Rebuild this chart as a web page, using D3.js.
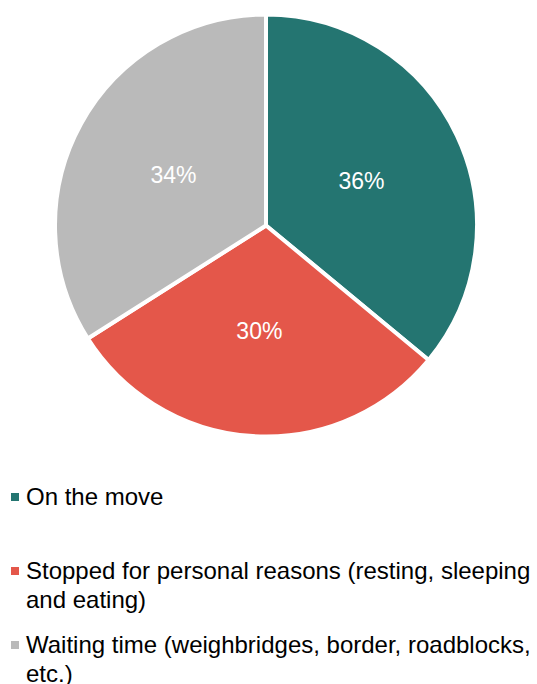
<!DOCTYPE html>
<html>
<head>
<meta charset="utf-8">
<script src="https://cdn.jsdelivr.net/npm/d3@7"></script>
<style>
  body { margin: 0; background: #fff; }
  svg { display: block; font-family: "Liberation Sans", Arial, sans-serif; }
</style>
</head>
<body>
<div id="chart"></div>
<script>
// Data
var categories = ["On the move", "Stopped for personal reasons (resting, sleeping and eating)", "Waiting time (weighbridges, border, roadblocks, etc.)"];
var values = [36, 30, 34];
var colors = ["#247571", "#e4574a", "#bababa"];
// legend text split into lines as in the picture
var legendLines = [
  ["On the move"],
  ["Stopped for personal reasons (resting, sleeping", "and eating)"],
  ["Waiting time (weighbridges, border, roadblocks,", "etc.)"]
];

var w = 537, h = 684;
var cx = 266, cy = 225.5, radius = 211;

var svg = d3.select("#chart").append("svg")
  .attr("width", w)
  .attr("height", h);

var data = categories.map(function(c, i) { return { name: c, value: values[i], color: colors[i] }; });

var pie = d3.pie().sort(null).value(function(d) { return d.value; });
var arc = d3.arc().innerRadius(0).outerRadius(radius);
var labelArc = d3.arc().innerRadius(radius / 2).outerRadius(radius / 2);

var g = svg.append("g").attr("transform", "translate(" + cx + "," + cy + ")");

g.selectAll("path")
  .data(pie(data))
  .enter()
  .append("path")
  .attr("d", arc)
  .attr("fill", function(d) { return d.data.color; })
  .attr("stroke", "#fff")
  .attr("stroke-width", 4)
  .attr("stroke-linejoin", "round");

// percentage labels
g.selectAll("text.pct")
  .data(pie(data))
  .enter()
  .append("text")
  .attr("class", "pct")
  .attr("transform", function(d) { return "translate(" + labelArc.centroid(d) + ")"; })
  .attr("text-anchor", "middle")
  .attr("dy", "0.35em")
  .attr("fill", "#fff")
  .style("font-size", "23px")
  .text(function(d) { return d.data.value + "%"; });

// Legend
var legendTop = [505, 579, 653];
var lineH = 29;
var legend = svg.append("g");

legendLines.forEach(function(lines, i) {
  legend.append("rect")
    .attr("x", 11)
    .attr("y", legendTop[i] - 12)
    .attr("width", 8)
    .attr("height", 8)
    .attr("fill", colors[i]);
  lines.forEach(function(line, j) {
    legend.append("text")
      .attr("x", 26)
      .attr("y", legendTop[i] + j * lineH)
      .attr("fill", "#000")
      .style("font-size", "24px")
      .text(line);
  });
});
</script>
</body>
</html>
